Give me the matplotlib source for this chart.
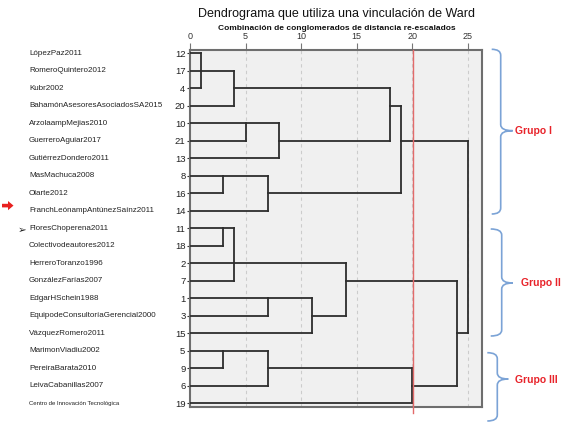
import matplotlib
matplotlib.use('Agg')
import matplotlib.pyplot as plt
import matplotlib.transforms as mtransforms
from matplotlib.path import Path
from matplotlib.patches import PathPatch, Polygon

plt.rcParams['font.family'] = ['Liberation Sans', 'DejaVu Sans']

# ---------------- data ----------------
case_names = [
    "LópezPaz2011", "RomeroQuintero2012", "Kubr2002", "BahamónAsesoresAsociadosSA2015",
    "ArzolaampMejias2010", "GuerreroAguiar2017", "GutiérrezDondero2011", "MasMachuca2008",
    "Olarte2012", "FranchLeónampAntúnezSaínz2011", "FloresChoperena2011",
    "Colectivodeautores2012", "HerreroToranzo1996", "GonzálezFarías2007", "EdgarHSchein1988",
    "EquipodeConsultoríaGerencial2000", "VázquezRomero2011", "MarimonViadiu2002",
    "PereiraBarata2010", "LeivaCabanillas2007", "Centro de Innovación Tecnológica",
]
case_ids = [12, 17, 4, 20, 10, 21, 13, 8, 16, 14, 11, 18, 2, 7, 1, 3, 15, 5, 9, 6, 19]

# merge nodes: (name, rescaled distance, children (case ids or node names), case whose row carries the output line)
nodes = [
    ("A", 1.0,  [12, 17, 4], 17),
    ("B", 4.0,  ["A", 20], 4),
    ("C", 5.0,  [10, 21], 10),
    ("D", 8.0,  ["C", 13], 21),
    ("E", 18.0, ["B", "D"], 20),
    ("G", 3.0,  [8, 16], 8),
    ("H", 7.0,  ["G", 14], 16),
    ("F", 19.0, ["E", "H"], 21),
    ("I", 3.0,  [11, 18], 11),
    ("J", 4.0,  ["I", 2, 7], 2),
    ("K", 7.0,  [1, 3], 1),
    ("L", 11.0, ["K", 15], 3),
    ("M", 14.0, ["J", "L"], 7),
    ("N", 3.0,  [5, 9], 5),
    ("O", 7.0,  ["N", 6], 9),
    ("P", 20.0, ["O", 19], 6),
    ("Q", 24.0, ["M", "P"], 15),
    ("R", 25.0, ["F", "Q"], None),
]
cut_distance = 20.1
x_ticks = [0, 5, 10, 15, 20, 25]

group_labels = ["Grupo I", "Grupo II", "Grupo III"]

# ---------------- figure ----------------
W, H = 569, 423
fig = plt.figure(figsize=(W / 100, H / 100), dpi=100)
fig.patch.set_facecolor('white')
px = mtransforms.Affine2D().scale(1 / W, -1 / H).translate(0, 1) + fig.transFigure

ax_left, ax_right, ax_top, ax_bot = 190, 482.3, 50, 406.7
ax = fig.add_axes([ax_left / W, 1 - ax_bot / H, (ax_right - ax_left) / W, (ax_bot - ax_top) / H])
ax.set_facecolor('#f0f0f0')
ax.set_xlim(0, 26.3)
n = len(case_ids)
ax.set_ylim(n - 1 + 0.19, -0.19)

row = {c: i for i, c in enumerate(case_ids)}
info = {}
line_kw = dict(color='#2e2e2e', lw=1.3, solid_capstyle='projecting', zorder=3)
for name, d, children, out_case in nodes:
    ys = []
    for ch in children:
        if isinstance(ch, str):
            cx, cy = info[ch]
        else:
            cx, cy = 0.0, row[ch]
        ax.plot([cx, d], [cy, cy], **line_kw)
        ys.append(cy)
    ax.plot([d, d], [min(ys), max(ys)], **line_kw)
    info[name] = (d, row[out_case] if out_case is not None else None)

# grid
for t in x_ticks[1:]:
    ax.axvline(t, color='#cccccc', lw=0.8, ls=(0, (3, 3)), zorder=1)
# cut line
ax.plot([cut_distance, cut_distance], [-0.19, n - 1 + 0.55], color='#e26a6a', lw=1.0,
        clip_on=False, zorder=4)

for s in ax.spines.values():
    s.set_color('#6e6e6e')
    s.set_linewidth(1.5)

ax.xaxis.tick_top()
ax.set_xticks(x_ticks)
ax.set_xticklabels([str(t) for t in x_ticks])
ax.tick_params(axis='x', length=5, width=0.8, color='#777777', labelsize=6.5,
               labelcolor='#333333', pad=1.5)
ax.set_yticks(range(n))
ax.set_yticklabels([str(c) for c in case_ids])
ax.tick_params(axis='y', length=2.5, width=0.8, color='#333333', labelsize=6.8,
               labelcolor='#222222', pad=0.8)

# names
bl = mtransforms.blended_transform_factory(fig.transFigure, ax.transData)
for i, nm in enumerate(case_names):
    small = (i == n - 1)
    ax.text(29 / W, i, nm, transform=bl, ha='left', va='center',
            fontsize=4.3 if small else 5.8, color='#222222', clip_on=False)

# titles
fig.text(337 / W, 1 - 14 / H, "Dendrograma que utiliza una vinculación de Ward",
         ha='center', va='center', fontsize=9, color='#111111')
fig.text(337 / W, 1 - 28.5 / H, "Combinación de conglomerados de distancia re-escalados",
         ha='center', va='center', fontsize=6, fontweight='bold', color='#111111')

# braces
brace_px = [  # x start, x vertical, x tip, y top, y bottom, y tip
    (491.7, 500.7, 512.7, 49.3, 214.0, 130.7),
    (490.7, 501.7, 512.7, 229.0, 336.0, 283.0),
    (487.3, 497.3, 508.3, 352.7, 421.0, 379.0),
]
label_px = [(515, 130.5), (521, 283.5), (515, 380)]
for (x0, xv, xt, yt, yb, ym), lab, (lx, ly) in zip(brace_px, group_labels, label_px):
    r = 6
    verts = [(x0, yt), (xv, yt), (xv, yt + r), (xv, ym - r), (xv, ym), (xt, ym),
             (xv, ym), (xv, ym + r), (xv, yb - r), (xv, yb), (x0, yb)]
    codes = [Path.MOVETO, Path.CURVE3, Path.CURVE3, Path.LINETO, Path.CURVE3, Path.CURVE3,
             Path.CURVE3, Path.CURVE3, Path.LINETO, Path.CURVE3, Path.CURVE3]
    fig.patches.append(PathPatch(Path(verts, codes), transform=px, fill=False,
                                 edgecolor='#7ba3d6', lw=1.2))
    fig.text(lx, ly, lab, transform=px, ha='left', va='center', fontsize=7.5,
             fontweight='bold', color='#e8232a')

# red arrow marker
arrow = Polygon([(2, 203.8), (8, 203.8), (8, 201), (13.5, 205.6), (8, 210.2), (8, 207.4), (2, 207.4)],
                closed=True, transform=px, facecolor='#e8201f', edgecolor='none')
fig.patches.append(arrow)
fig.text(22, 229.5, "➢", transform=px, ha='center', va='center', fontsize=7.5,
         color='#222222', family=['DejaVu Sans'])

fig.savefig('out.png', dpi=100, facecolor='white')
